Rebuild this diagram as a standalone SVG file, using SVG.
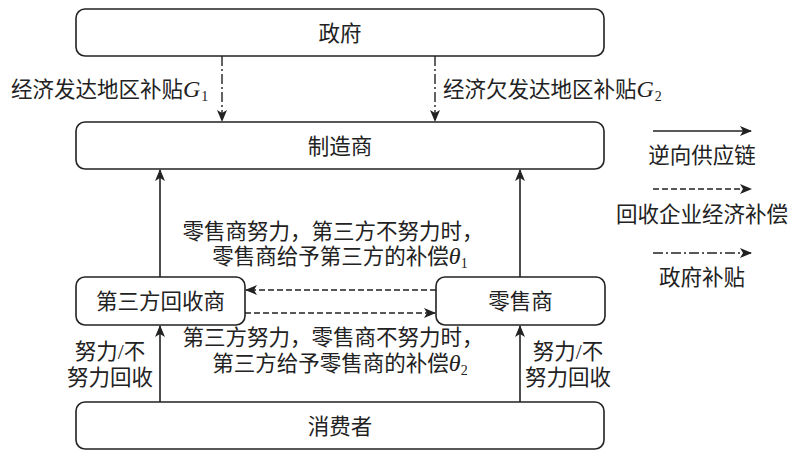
<svg xmlns="http://www.w3.org/2000/svg" width="800" height="456" viewBox="0 0 800 456">
<style>
.box{fill:#fff;stroke:#222;stroke-width:1.6}
.t{font-family:"Liberation Serif","Noto Sans CJK SC",serif;font-size:21.5px;fill:#222}
.c{text-anchor:middle}
.it{font-style:italic;font-size:24px}
.sub{font-size:14px}
.solid{stroke:#222;stroke-width:1.6;fill:none}
.dash{stroke:#222;stroke-width:1.4;fill:none;stroke-dasharray:6 3}
.dd{stroke:#222;stroke-width:1.4;fill:none;stroke-dasharray:10 3 2 3}
</style>
<defs>
<marker id="ah" markerWidth="12" markerHeight="10" refX="11" refY="5" orient="auto" markerUnits="userSpaceOnUse">
<path d="M0,0 L12,5 L0,10 L3,5 z" fill="#222"/>
</marker>
</defs>
<rect width="800" height="456" fill="#fff"/>
<g id="gov"><rect class="box" x="76" y="9" width="528" height="47" rx="9"/><text class="t c" x="340" y="41">政府</text></g>
<g id="manufacturer"><rect class="box" x="76" y="122" width="528" height="47" rx="9"/><text class="t c" x="340" y="154">制造商</text></g>
<g id="thirdparty"><rect class="box" x="76" y="277" width="169" height="48" rx="9"/><text class="t c" x="160.5" y="309">第三方回收商</text></g>
<g id="retailer"><rect class="box" x="436" y="277" width="169" height="48" rx="9"/><text class="t c" x="520.5" y="309">零售商</text></g>
<g id="consumer"><rect class="box" x="76" y="402" width="528" height="47" rx="9"/><text class="t c" x="340" y="434">消费者</text></g>
<g id="connectors">
<line class="dd" x1="222" y1="56" x2="222" y2="121" marker-end="url(#ah)"/>
<line class="dd" x1="435" y1="56" x2="435" y2="121" marker-end="url(#ah)"/>
<line class="solid" x1="160" y1="277" x2="160" y2="170" marker-end="url(#ah)"/>
<line class="solid" x1="520" y1="277" x2="520" y2="170" marker-end="url(#ah)"/>
<line class="solid" x1="160" y1="402" x2="160" y2="326" marker-end="url(#ah)"/>
<line class="solid" x1="520" y1="402" x2="520" y2="326" marker-end="url(#ah)"/>
<line class="dash" x1="436" y1="290" x2="246" y2="290" marker-end="url(#ah)"/>
<line class="dash" x1="245" y1="313" x2="435" y2="313" marker-end="url(#ah)"/>
</g>
<g id="labels">
<text class="t" x="11" y="97">经济发达地区补贴<tspan class="it">G</tspan><tspan class="sub" dy="4" dx="1">1</tspan></text>
<text class="t" x="443" y="97">经济欠发达地区补贴<tspan class="it">G</tspan><tspan class="sub" dy="4" dx="1">2</tspan></text>
<text class="t c" x="333" y="239">零售商努力，第三方不努力时，</text>
<text class="t c" x="340" y="264">零售商给予第三方的补偿<tspan class="it">θ</tspan><tspan class="sub" dy="4">1</tspan></text>
<text class="t c" x="333" y="345">第三方努力，零售商不努力时，</text>
<text class="t c" x="340" y="371">第三方给予零售商的补偿<tspan class="it">θ</tspan><tspan class="sub" dy="4">2</tspan></text>
<text class="t c" x="110" y="359">努力/不</text>
<text class="t c" x="110" y="385">努力回收</text>
<text class="t c" x="568" y="359">努力/不</text>
<text class="t c" x="568" y="385">努力回收</text>
</g>
<g id="legend">
<line class="solid" x1="653" y1="131" x2="751" y2="131" marker-end="url(#ah)"/>
<text class="t c" x="702" y="163">逆向供应链</text>
<line class="dash" x1="653" y1="189" x2="751" y2="189" marker-end="url(#ah)"/>
<text class="t c" x="702" y="222">回收企业经济补偿</text>
<line class="dd" x1="653" y1="253" x2="751" y2="253" marker-end="url(#ah)"/>
<text class="t c" x="702" y="285">政府补贴</text>
</g>
</svg>
